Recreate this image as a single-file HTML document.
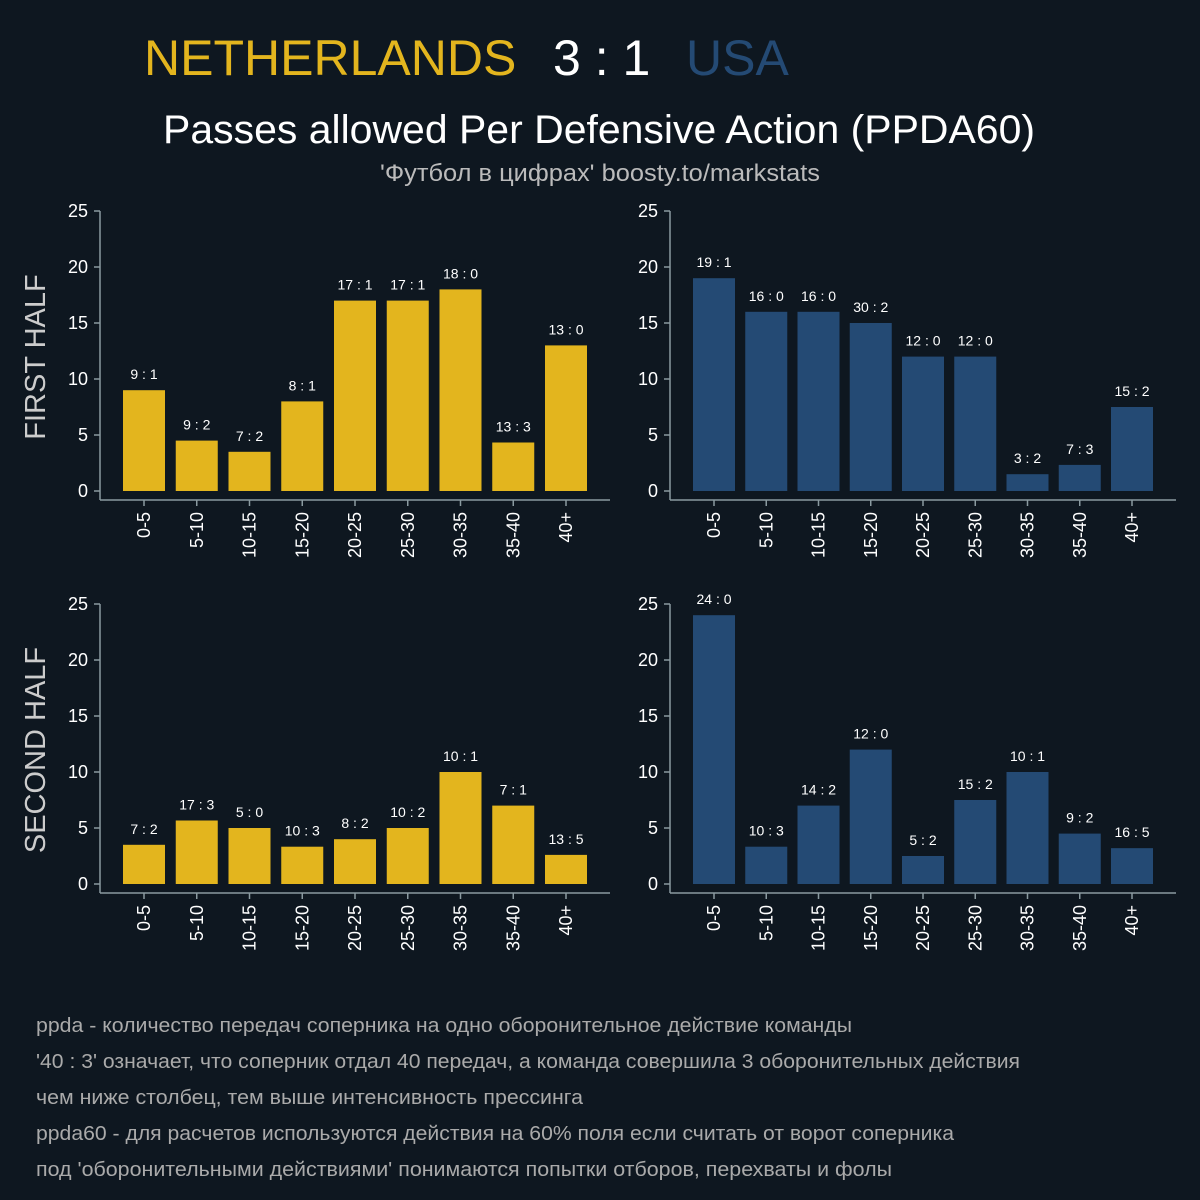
<!DOCTYPE html>
<html><head><meta charset="utf-8"><style>
html,body{margin:0;padding:0;background:#0e1720;}
svg{display:block;font-family:"Liberation Sans",Roboto,sans-serif;}
</style></head><body>
<svg id="c" width="1200" height="1200" viewBox="0 0 1200 1200">
<rect width="1200" height="1200" fill="#0e1720"/>
<text x="144" y="75" font-size="50" fill="#e3b51e">NETHERLANDS</text>
<text x="553" y="75" font-size="50" fill="#ffffff">3 : 1</text>
<text x="686" y="75" font-size="50" fill="#244a74">USA</text>
<text x="163" y="143" font-size="40" fill="#ffffff" textLength="872" lengthAdjust="spacingAndGlyphs">Passes allowed Per Defensive Action (PPDA60)</text>
<text x="380" y="181" font-size="24" fill="#bbbbbb" textLength="440" lengthAdjust="spacingAndGlyphs">'Футбол в цифрах' boosty.to/markstats</text>
<text transform="translate(45,357) rotate(-90)" font-size="29" fill="#cccccc" text-anchor="middle">FIRST HALF</text>
<text transform="translate(45,750) rotate(-90)" font-size="29" fill="#cccccc" text-anchor="middle">SECOND HALF</text>
<g font-size="20" fill="#aaaaaa">
<text x="36" y="1032" textLength="816" lengthAdjust="spacingAndGlyphs">ppda - количество передач соперника на одно оборонительное действие команды</text>
<text x="36" y="1068" textLength="984" lengthAdjust="spacingAndGlyphs">'40 : 3' означает, что соперник отдал 40 передач, а команда совершила 3 оборонительных действия</text>
<text x="36" y="1104" textLength="547" lengthAdjust="spacingAndGlyphs">чем ниже столбец, тем выше интенсивность прессинга</text>
<text x="36" y="1140" textLength="918" lengthAdjust="spacingAndGlyphs">ppda60 - для расчетов используются действия на 60% поля если считать от ворот соперника</text>
<text x="36" y="1176" textLength="856" lengthAdjust="spacingAndGlyphs">под 'оборонительными действиями' понимаются попытки отборов, перехваты и фолы</text>
</g>
</svg>
<script>
const categories=["0-5","5-10","10-15","15-20","20-25","25-30","30-35","35-40","40+"];
const yTicks=[0,5,10,15,20,25];
const nedFirstValues=[9,4.5,3.5,8,17,17,18,4.33,13];
const nedFirstLabels=["9 : 1","9 : 2","7 : 2","8 : 1","17 : 1","17 : 1","18 : 0","13 : 3","13 : 0"];
const usaFirstValues=[19,16,16,15,12,12,1.5,2.33,7.5];
const usaFirstLabels=["19 : 1","16 : 0","16 : 0","30 : 2","12 : 0","12 : 0","3 : 2","7 : 3","15 : 2"];
const nedSecondValues=[3.5,5.67,5,3.33,4,5,10,7,2.6];
const nedSecondLabels=["7 : 2","17 : 3","5 : 0","10 : 3","8 : 2","10 : 2","10 : 1","7 : 1","13 : 5"];
const usaSecondValues=[24,3.33,7,12,2.5,7.5,10,4.5,3.2];
const usaSecondLabels=["24 : 0","10 : 3","14 : 2","12 : 0","5 : 2","15 : 2","10 : 1","9 : 2","16 : 5"];

const NS="http://www.w3.org/2000/svg";
const svg=document.getElementById('c');
function mk(tag,attrs,parent){const e=document.createElementNS(NS,tag);for(const k in attrs)e.setAttribute(k,attrs[k]);(parent||svg).appendChild(e);return e;}

function panel(name,left,right,zeroY,values,labels,color){
  const g=mk('g',{});
  
  
  const unit=11.2;
  const yScale=v=>zeroY-v*unit;
  const step=(right-left-88)/8;
  const xScale=i=>left+44+i*step;
  const bottom=zeroY+9;
  const ax=mk('line',{x1:left,y1:yScale(25),x2:left,y2:bottom,stroke:'#8a9aa0','stroke-width':1.5},g);
  
  
  const bx=mk('line',{x1:left,y1:bottom,x2:right,y2:bottom,stroke:'#8a9aa0','stroke-width':1.5},g);
  
  
  yTicks.forEach(t=>{
    const y=yScale(t);
    mk('line',{x1:left-6,y1:y,x2:left,y2:y,stroke:'#8a9aa0','stroke-width':1.5},g);
    const tx=mk('text',{x:left-12,y:y+6,'font-size':18,fill:'#ffffff','text-anchor':'end'},g);
    tx.textContent=t;
    
    
  });
  categories.forEach((c,i)=>{
    const cx=xScale(i);
    const v=values[i];
    const r=mk('rect',{x:cx-21,y:yScale(v),width:42,height:v*unit,fill:color},g);
    
    
    const lb=mk('text',{x:cx,y:yScale(v)-11,'font-size':14,fill:'#ffffff','text-anchor':'middle'},g);
    lb.textContent=labels[i];
    
    
    mk('line',{x1:cx,y1:bottom,x2:cx,y2:bottom+6,stroke:'#8a9aa0','stroke-width':1.5},g);
    const xl=mk('text',{transform:`translate(${cx+6},${bottom+12}) rotate(-90)`,'font-size':18,fill:'#ffffff','text-anchor':'end'},g);
    xl.textContent=c;
    
    
  });
}
panel('ned-first-half-panel',100,610,491,nedFirstValues,nedFirstLabels,'#e3b51e');
panel('usa-first-half-panel',670,1176,491,usaFirstValues,usaFirstLabels,'#244a74');
panel('ned-second-half-panel',100,610,884,nedSecondValues,nedSecondLabels,'#e3b51e');
panel('usa-second-half-panel',670,1176,884,usaSecondValues,usaSecondLabels,'#244a74');
</script>
</body></html>
